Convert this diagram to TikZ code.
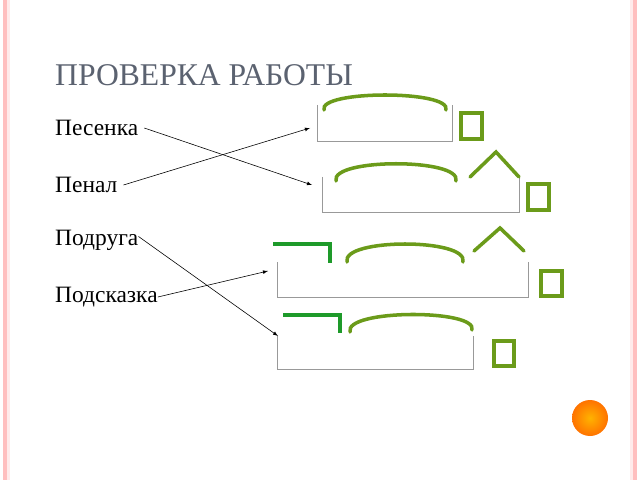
\documentclass[tikz,border=0pt]{standalone}
\usepackage{fontspec}
\setmainfont{Liberation Serif}
\definecolor{rootgreen}{HTML}{6B9B1A}
\definecolor{prefgreen}{HTML}{1E9A2A}
\definecolor{titlegray}{HTML}{5B6270}
\begin{document}
\begin{tikzpicture}[x=0.03cm,y=-0.03cm,
  word/.style={anchor=west,inner sep=0pt,font=\fontsize{20}{24}\selectfont},
  bracketline/.style={draw=gray!80,line width=0.8pt},
  rootline/.style={draw=rootgreen,line width=3pt,line cap=round},
  prefline/.style={draw=prefgreen,line width=3pt},
  endbox/.style={draw=rootgreen,line width=3pt},
  link/.style={-latex,line width=0.5pt}]
\useasboundingbox (0,0) rectangle (640,480);
\fill[white] (0,0) rectangle (640,480);
\fill[red!25] (3,0) rectangle (7,480);
\fill[red!25] (633,0) rectangle (637,480);
\fill[red!8] (7,0) rectangle (10,480);
\fill[red!8] (630,0) rectangle (633,480);
\node[word,font=\fontsize{27}{30}\selectfont,text=titlegray] (title) at (55,75) {ПРОВЕРКА РАБОТЫ};
\node[word] (w1) at (55,128) {Песенка};
\node[word] (w2) at (55,185) {Пенал};
\node[word] (w3) at (55,240) {Подруга};
\node[word] (w4) at (55,297) {Подсказка};
% scheme 1
\draw[bracketline] (317,105) -- (317,141) -- (452,141) -- (452,105);
\draw[rootline] (324,110) .. controls (318,90) and (452,90) .. (446,110);
\draw[endbox] (461,113) rectangle (482,139);
% scheme 2
\draw[bracketline] (322,177) -- (322,212) -- (519,212) -- (519,177);
\draw[rootline] (336,181) .. controls (330,158) and (462,158) .. (456,181);
\draw[rootline] (470,177) -- (496,152) -- (519,177);
\draw[endbox] (528,184) rectangle (549,210);
% scheme 3
\draw[prefline] (273,244) -- (330,244) -- (330,263);
\draw[bracketline] (277,262) -- (277,297) -- (528,297) -- (528,262);
\draw[rootline] (347,262) .. controls (341,238) and (469,238) .. (463,262);
\draw[rootline] (474,251) -- (500,228) -- (524,251);
\draw[endbox] (541,271) rectangle (562,296);
% scheme 4
\draw[prefline] (283,315) -- (340,315) -- (340,333);
\draw[bracketline] (277,336) -- (277,369) -- (473,369) -- (473,336);
\draw[rootline] (350,332) .. controls (344,309) and (478,309) .. (472,330);
\draw[endbox] (494,341) rectangle (514,366);
% arrows
\coordinate (s1) at (310,128);
\coordinate (s2) at (312,185);
\coordinate (s3) at (268,271);
\coordinate (s4) at (278,336);
\draw[link] ([xshift=5pt]w1.east) -- (s2);
\draw[link] ([xshift=5pt]w2.east) -- (s1);
\draw[link] ([yshift=3pt]w3.east) -- (s4);
\draw[link] (w4.east) -- (s3);
\shade[inner color=orange!60!yellow,outer color=orange!90!red] (590,418) circle (18);
\end{tikzpicture}
\end{document}
